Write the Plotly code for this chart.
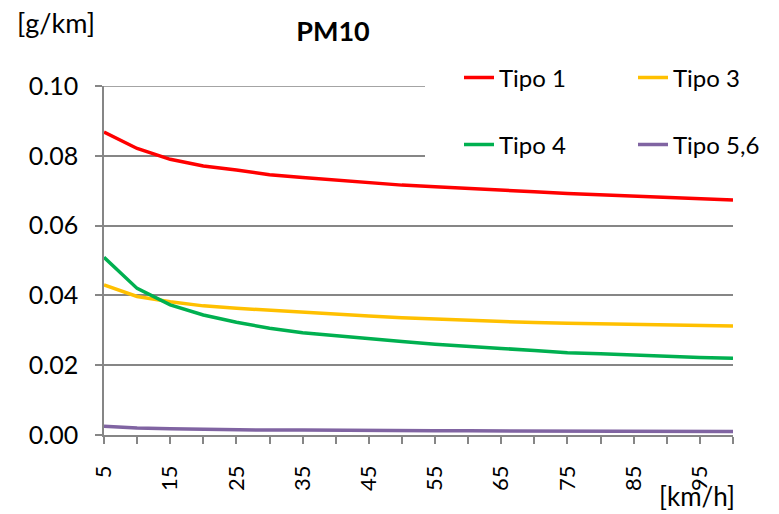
import plotly.graph_objects as go

# Speed classes [km/h]
speed = [5, 10, 15, 20, 25, 30, 35, 40, 45, 50, 55, 60, 65, 70, 75, 80, 85, 90, 95, 100]

# PM10 emission factors [g/km] per vehicle type
tipo_1 = [0.0868, 0.0821, 0.0790, 0.0771, 0.0759, 0.0746, 0.0738, 0.0730, 0.0724, 0.0716,
          0.0711, 0.0707, 0.0702, 0.0697, 0.0692, 0.0688, 0.0684, 0.0680, 0.0676, 0.0673]
tipo_3 = [0.0430, 0.0397, 0.0382, 0.0370, 0.0363, 0.0357, 0.0352, 0.0347, 0.0341, 0.0336,
          0.0332, 0.0328, 0.0325, 0.0322, 0.0320, 0.0318, 0.0316, 0.0314, 0.0313, 0.0312]
tipo_4 = [0.0509, 0.0420, 0.0373, 0.0344, 0.0323, 0.0306, 0.0293, 0.0284, 0.0275, 0.0268,
          0.0260, 0.0253, 0.0248, 0.0242, 0.0236, 0.0233, 0.0229, 0.0225, 0.0222, 0.0220]
tipo_56 = [0.0025, 0.0020, 0.0018, 0.0016, 0.0015, 0.0014, 0.0014, 0.0013, 0.0013, 0.0013,
           0.0012, 0.0012, 0.0012, 0.0011, 0.0011, 0.0011, 0.0011, 0.0010, 0.0010, 0.0010]

y_ticks = [0.00, 0.02, 0.04, 0.06, 0.08, 0.10]

series = [
    ("Tipo 1", tipo_1, "#FF0000", "legend"),
    ("Tipo 3", tipo_3, "#FFC000", "legend"),
    ("Tipo 4", tipo_4, "#00B050", "legend2"),
    ("Tipo 5,6", tipo_56, "#8064A2", "legend2"),
]

FONT = "Lato"
GRID = "#868686"
FS = 24

fig = go.Figure()
for name, vals, color, leg in series:
    fig.add_trace(go.Scatter(
        x=speed, y=vals, name=name, mode="lines",
        line=dict(color=color, width=3.5),
        legend=leg,
    ))

W, H = 779, 514
L, R, T, B = 104, 46, 86, 79
pw = W - L - R
ph = H - T - B

def px_x(px):
    return (px - L) / pw

def px_y(py):
    return (H - B - py) / ph

# white legend boxes with the entries indented from the box edge
legend_common = dict(
    orientation="h", bgcolor="white", borderwidth=0,
    indentation=34,
    font=dict(family=FONT, size=FS, color="black"),
    entrywidth=95, entrywidthmode="pixels",
    xanchor="left", yanchor="middle",
    itemclick=False,
)

fig.update_layout(
    width=W, height=H,
    margin=dict(l=L, r=R, t=T, b=B, autoexpand=False),
    paper_bgcolor="white", plot_bgcolor="white",
    font=dict(family=FONT, size=FS, color="black"),
    title=dict(text="<b>PM10</b>", x=333 / W, xref="container", xanchor="center",
               y=1 - 32 / H, yref="container", yanchor="middle",
               font=dict(family=FONT, size=27, color="black")),
    legend=dict(x=px_x(425), y=px_y(78), **legend_common),
    legend2=dict(x=px_x(425), y=px_y(145), **legend_common),
    xaxis=dict(
        range=[5, 100], tickmode="linear", tick0=5, dtick=10,
        tickangle=-90, showgrid=False, zeroline=False,
        showline=True, linecolor=GRID, linewidth=1.5,
        ticks="outside", ticklen=7, tickcolor=GRID, tickwidth=1.5,
        minor=dict(tick0=5, dtick=5, ticks="outside", ticklen=7, tickcolor=GRID, tickwidth=1.5),
        ticklabelstandoff=13,
        tickfont=dict(family=FONT, size=22, color="black"),
    ),
    yaxis=dict(
        range=[0, 0.10], tickmode="array", tickvals=y_ticks,
        ticktext=[f"{v:.2f}" for v in y_ticks],
        showgrid=True, gridcolor=GRID, gridwidth=1.5, zeroline=False,
        showline=True, linecolor=GRID, linewidth=1.5,
        ticks="outside", ticklen=7, tickcolor=GRID, tickwidth=1.5,
        ticklabelstandoff=12,
        tickfont=dict(family=FONT, size=25, color="black"),
    ),
    annotations=[
        dict(text="[g/km]", x=px_x(56), y=px_y(23), xref="paper", yref="paper",
             xanchor="center", yanchor="middle", showarrow=False,
             font=dict(family=FONT, size=27, color="black")),
        dict(text="[km/h]", x=px_x(697), y=px_y(496), xref="paper", yref="paper",
             xanchor="center", yanchor="middle", showarrow=False,
             font=dict(family=FONT, size=26, color="black")),
    ],
)

# top gridline at the upper edge of the value range
fig.add_shape(type="line", xref="paper", x0=0, x1=1, yref="y", y0=y_ticks[-1], y1=y_ticks[-1],
              line=dict(color=GRID, width=1.5), layer="below")

fig.write_html("out.html")
